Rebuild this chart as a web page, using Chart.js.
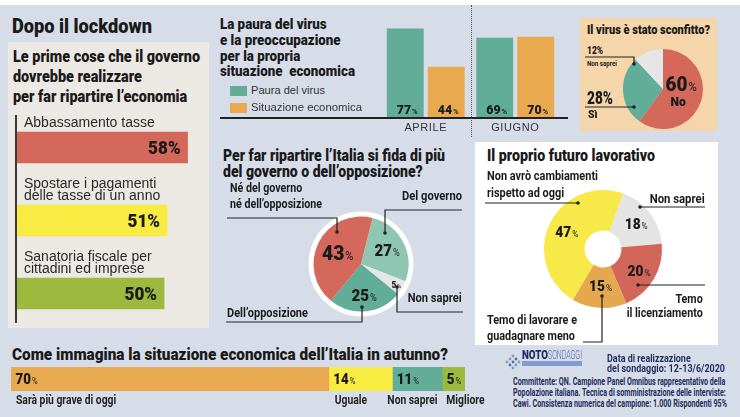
<!DOCTYPE html>
<html><head><meta charset="utf-8">
<script src="https://cdn.jsdelivr.net/npm/chart.js@4.4.0/dist/chart.umd.min.js"></script>
<style>
html,body{margin:0;padding:0}
body{width:740px;height:417px;overflow:hidden;position:relative;background:#d6dde9;font-family:Roboto,"Liberation Sans",sans-serif;color:#1a1a1a}
.p{position:absolute}
.t{position:absolute;white-space:pre;z-index:4}
canvas{position:absolute;z-index:2}
svg{position:absolute;left:0;top:0;z-index:5}
</style></head>
<body>
<div class="p" style="left:0;top:0;width:740px;height:5px;background:#fff"></div>
<div class="p" style="left:8px;top:42px;width:201px;height:286px;background:#ece8e3"></div>
<div class="p" style="left:580px;top:18px;width:137px;height:113px;background:#f5d6aa"></div>
<div class="p" style="left:475px;top:142px;width:243px;height:203px;background:#fff"></div>
<div class="p" style="left:15px;top:115px;width:1.6px;height:208px;background:#3a3a3a"></div>
<div class="p" style="left:220px;top:117px;width:348px;height:1.5px;background:#222;z-index:3"></div>
<div class="p" style="left:470.5px;top:5px;width:0;height:132px;border-left:1px dotted #555"></div>
<div class="p" style="left:230px;top:86px;width:17px;height:10px;background:#61ad98"></div>
<div class="p" style="left:230px;top:103px;width:17px;height:10px;background:#e9a94f"></div>

<canvas id="cA" width="200" height="219" style="left:17px;top:111px"></canvas>
<canvas id="cB" width="179" height="137" style="left:381px;top:0px"></canvas>
<canvas id="cC" width="90" height="90" style="left:618px;top:44px"></canvas>
<canvas id="cD" width="120" height="120" style="left:301px;top:204px"></canvas>
<canvas id="cE" width="128" height="128" style="left:539px;top:185px"></canvas>
<canvas id="cF" width="490" height="45" style="left:11px;top:367px"></canvas>

<svg width="740" height="417" id="lines"></svg>

<!-- footer logo -->
<svg width="740" height="417" style="z-index:5">
  <g fill="#8a9bb5">
    <circle cx="513" cy="356" r="1.4"/><circle cx="510" cy="359" r="1.4"/><circle cx="516" cy="359" r="1.4" fill="#4d6fb0"/>
    <circle cx="507" cy="362" r="1.4"/><circle cx="513" cy="362" r="1.4" fill="#4d6fb0"/><circle cx="519" cy="362" r="1.4"/>
    <circle cx="510" cy="365" r="1.4" fill="#4d6fb0"/><circle cx="516" cy="365" r="1.4"/><circle cx="513" cy="368" r="1.4"/>
  </g>
  <rect x="522" y="361" width="60" height="5" fill="#7f9bd0"/>
</svg>

<script>
const priorityLabels = [['Abbassamento tasse'], ['Spostare i pagamenti', 'delle tasse di un anno'], ['Sanatoria fiscale per', 'cittadini ed imprese']];
const priorityValues = [58, 51, 50];

const fearMonths = ['APRILE', 'GIUGNO'];
const fearSeries = ['Paura del virus', 'Situazione economica'];
const fearVirus = [77, 69];
const fearEconomy = [44, 70];

const defeatedLabels = ['No', 'Sì', 'Non saprei'];
const defeatedValues = [60, 28, 12];

const trustLabels = ['Del governo', 'Non saprei', 'Dell’opposizione', 'Né del governo né dell’opposizione'];
const trustValues = [27, 5, 25, 43];

const jobLabels = ['Non saprei', 'Temo il licenziamento', 'Temo di lavorare e guadagnare meno', 'Non avrò cambiamenti rispetto ad oggi'];
const jobValues = [18, 20, 15, 47];

const autumnLabels = ['Sarà più grave di oggi', 'Uguale', 'Non saprei', 'Migliore'];
const autumnValues = [70, 14, 11, 5];

const RED = '#d3685b', YEL = '#f8eb42', GRN = '#9dba3e', TEAL = '#61ad98', ORA = '#e9a94f', LTEAL = '#8fc6b3', GRAY = '#e6e6e6';
const DARK = '#1a1a1a';

function txt(ctx, s, x, cy, font, align, sx, color) {
  ctx.save();
  ctx.font = font;
  const size = parseFloat(font.match(/([\d.]+)px/)[1]);
  const w = ctx.measureText(s).width * sx;
  const x0 = align === 'left' ? x : align === 'right' ? x - w : x - w / 2;
  ctx.translate(x0, cy + size * 0.355);
  ctx.scale(sx, 1);
  ctx.fillStyle = color || DARK;
  ctx.textAlign = 'left'; ctx.textBaseline = 'alphabetic';
  ctx.fillText(s, 0, 0);
  ctx.restore();
  return w;
}
function pct(ctx, v, x, cy, size, psize, align, sx, pw) {
  const n = String(v), f1 = `900 ${size}px Roboto`, f2 = `${pw || 700} ${psize}px Roboto`;
  ctx.save();
  ctx.font = f1; const w1 = ctx.measureText(n).width;
  ctx.font = f2; const w2 = ctx.measureText('%').width;
  const w = (w1 + w2 + 1) * sx;
  const x0 = align === 'left' ? x : align === 'right' ? x - w : x - w / 2;
  ctx.translate(x0, cy + size * 0.355);
  ctx.scale(sx, 1);
  ctx.fillStyle = DARK; ctx.textAlign = 'left'; ctx.textBaseline = 'alphabetic';
  ctx.font = f1; ctx.fillText(n, 0, 0);
  ctx.font = f2; ctx.fillText('%', w1 + 1, 0);
  ctx.restore();
}

const base = {
  animation: false, responsive: false, devicePixelRatio: 1,
  plugins: { legend: { display: false }, tooltip: { enabled: false } }
};

// Chart A: priorities
new Chart(document.getElementById('cA'), {
  type: 'bar',
  data: { labels: priorityLabels.map(l => l.join(' ')), datasets: [{ data: priorityValues, backgroundColor: [RED, YEL, GRN], barThickness: 31 }] },
  options: Object.assign({}, base, {
    indexAxis: 'y', layout: { padding: 0 },
    scales: { x: { display: false, min: 0, max: 68 }, y: { display: false } }
  }),
  plugins: [{
    id: 'pl', afterDatasetsDraw(chart) {
      const ctx = chart.ctx, meta = chart.getDatasetMeta(0);
      meta.data.forEach((b, i) => {
        const top = b.y - b.height / 2;
        const lines = priorityLabels[i];
        lines.forEach((s, j) => {
          const cy = top - 9.5 - (lines.length - 1 - j) * 12;
          txt(ctx, s, chart.chartArea.left + 7, cy, '14px "Liberation Sans", Arial', 'left', 1, '#2a2a2a');
        });
        txt(ctx, priorityValues[i] + '%', b.x - 7, b.y, '900 18px Roboto', 'right', 0.95);
      });
    }
  }]
});

// Chart B: fear grouped bars
new Chart(document.getElementById('cB'), {
  type: 'bar',
  data: { labels: fearMonths, datasets: [
    { label: fearSeries[0], data: fearVirus, backgroundColor: TEAL, categoryPercentage: 0.916, barPercentage: 0.9 },
    { label: fearSeries[1], data: fearEconomy, backgroundColor: ORA, categoryPercentage: 0.916, barPercentage: 0.9 }
  ] },
  options: Object.assign({}, base, {
    layout: { padding: { top: 2, bottom: 19.5, left: 0, right: 0 } },
    scales: { x: { display: false }, y: { display: false, min: 0, max: 100 } }
  }),
  plugins: [{
    id: 'pb', afterDatasetsDraw(chart) {
      const ctx = chart.ctx, bottom = chart.chartArea.bottom;
      [fearVirus, fearEconomy].forEach((arr, d) => {
        chart.getDatasetMeta(d).data.forEach((b, i) => {
          pct(ctx, arr[i], b.x + 2, bottom - 8, 13, 8, 'center', 0.95);
        });
      });
      const xs = chart.scales.x;
      fearMonths.forEach((m, i) => {
        ctx.save(); ctx.font = '11px "Liberation Sans", Arial'; ctx.fillStyle = '#333';
        ctx.letterSpacing = '0.6px';
        ctx.textAlign = 'center'; ctx.textBaseline = 'middle';
        ctx.fillText(m, xs.getPixelForValue(i), bottom + 10);
        ctx.restore();
      });
    }
  }]
});

// Chart C: virus defeated
new Chart(document.getElementById('cC'), {
  type: 'pie',
  data: { labels: defeatedLabels, datasets: [{ data: defeatedValues, backgroundColor: [RED, TEAL, GRAY], borderWidth: 0 }] },
  options: Object.assign({}, base, { radius: 40, rotation: 0 }),
  plugins: [{
    id: 'pc', afterDatasetsDraw(chart) {
      const ctx = chart.ctx, a = chart.getDatasetMeta(0).data[0];
      const m = (a.startAngle + a.endAngle) / 2, r = a.outerRadius * 0.4;
      const x = a.x + Math.cos(m) * r, y = a.y + Math.sin(m) * r;
      pct(ctx, defeatedValues[0], x + 3, y - 10, 21, 13, 'center', 0.9, 400);
      txt(ctx, defeatedLabels[0], x, y + 7.5, '900 13.5px Roboto', 'center', 0.9);
    }
  }]
});

// Chart D: trust pie
new Chart(document.getElementById('cD'), {
  type: 'pie',
  data: { labels: trustLabels, datasets: [{ data: trustValues, backgroundColor: [LTEAL, GRAY, TEAL, RED], borderWidth: 0 }] },
  options: Object.assign({}, base, { radius: 47.5, rotation: 14 }),
  plugins: [{
    id: 'pd',
    beforeDatasetsDraw(chart) {
      const ctx = chart.ctx, a = chart.getDatasetMeta(0).data[0];
      ctx.save(); ctx.beginPath(); ctx.arc(a.x, a.y, a.outerRadius + 5, 0, Math.PI * 2);
      ctx.fillStyle = '#fff'; ctx.fill(); ctx.restore();
    },
    afterDatasetsDraw(chart) {
      const ctx = chart.ctx, rf = [0.62, 0.86, 0.66, 0.55], sz = [[16.5, 10], [9, 6], [16.5, 10], [21, 12]];
      chart.getDatasetMeta(0).data.forEach((a, i) => {
        const m = (a.startAngle + a.endAngle) / 2, r = a.outerRadius * rf[i];
        pct(ctx, trustValues[i], a.x + Math.cos(m) * r, a.y + Math.sin(m) * r, sz[i][0], sz[i][1], 'center', 0.92, 400);
      });
    }
  }]
});

// Chart E: job donut
new Chart(document.getElementById('cE'), {
  type: 'doughnut',
  data: { labels: jobLabels, datasets: [{ data: jobValues, backgroundColor: ['#e4e4e4', '#d2665a', '#e6a84f', '#f8e94a'], borderWidth: 0 }] },
  options: Object.assign({}, base, { radius: 59, cutout: 20, rotation: 20 }),
  plugins: [{
    id: 'pe', afterDatasetsDraw(chart) {
      const ctx = chart.ctx, rf = [0.71, 0.71, 0.62, 0.68];
      chart.getDatasetMeta(0).data.forEach((a, i) => {
        const m = (a.startAngle + a.endAngle) / 2, r = a.outerRadius * rf[i];
        pct(ctx, jobValues[i], a.x + Math.cos(m) * r, a.y + Math.sin(m) * r, 15, 9, 'center', 0.92, 400);
      });
    }
  }]
});

// Chart F: autumn stacked bar
const autumnColors = ['#e9a94f', '#f8eb42', '#61ad98', '#9dba3e'];
new Chart(document.getElementById('cF'), {
  type: 'bar',
  data: { labels: [''], datasets: autumnValues.map((v, i) => ({ label: autumnLabels[i], data: [v], backgroundColor: autumnColors[i], categoryPercentage: 1, barPercentage: 1 })) },
  options: Object.assign({}, base, {
    indexAxis: 'y', layout: { padding: { top: 0, bottom: 21, left: 0, right: 36 } },
    scales: { x: { display: false, stacked: true, min: 0, max: 100 }, y: { display: false, stacked: true } }
  }),
  plugins: [{
    id: 'pf', afterDatasetsDraw(chart) {
      const ctx = chart.ctx, dx = [5, 6, -5, 4], ca = chart.chartArea;
      autumnValues.forEach((v, i) => {
        const b = chart.getDatasetMeta(i).data[0];
        const start = b.base;
        pct(ctx, v, start + 4.5, b.y, 14.5, 8.5, 'left', 0.92, 400);
        txt(ctx, autumnLabels[i], start + dx[i], ca.bottom + 9, '700 12px Roboto', 'left', 0.86, '#222');
      });
    }
  }]
});

// HTML texts
function T(x, cy, lines, font, w, o) {
  o = o || {};
  const el = document.createElement('div');
  el.className = 't';
  el.style.font = font;
  const size = parseFloat(font.match(/([\d.]+)px/)[1]);
  const lh = o.lh || size * 1.2;
  el.style.lineHeight = lh + 'px';
  el.textContent = lines.join('\n');
  el.style.top = (cy - lh / 2) + 'px';
  if (o.right) { el.style.right = (740 - x) + 'px'; el.style.textAlign = 'right'; }
  else el.style.left = x + 'px';
  el.style.color = o.color || DARK;
  document.body.appendChild(el);
  if (w) {
    const nw = el.getBoundingClientRect().width;
    el.style.transformOrigin = o.right ? 'right top' : 'left top';
    el.style.transform = `scaleX(${w / nw})`;
  }
}
T(12, 26.5, ['Dopo il lockdown'], '900 19.5px Roboto', 140);
T(13, 57, ['Le prime cose che il governo', 'dovrebbe realizzare', 'per far ripartire l’economia'], '900 16.5px Roboto', 187, { lh: 19.7 });
T(220, 25, ['La paura del virus', 'e la preoccupazione', 'per la propria', 'situazione  economica'], '900 15px Roboto', 135, { lh: 15.8 });
T(251, 91, [fearSeries[0]], '11.5px "Liberation Sans"', 74, { color: '#333' });
T(251, 108, [fearSeries[1]], '11.5px "Liberation Sans"', 111, { color: '#333' });
T(587, 30, ['Il virus è stato sconfitto?'], '900 13px Roboto', 123);
T(587, 51, ['12%'], '900 11px Roboto', 16);
T(587, 63.5, ['Non saprei'], '700 7.5px Roboto', 30);
T(587, 98, ['28%'], '900 17.5px Roboto', 26);
T(588, 115, ['Sì'], '900 10.5px Roboto', null);
T(223, 156, ['Per far ripartire l’Italia si fida di più', 'del governo o dell’opposizione?'], '900 16px Roboto', 222, { lh: 16.5 });
T(230, 188, ['Né del governo', 'né dell’opposizione'], '700 12.5px Roboto', 92, { lh: 16 });
T(462, 195, ['Del governo'], '700 12.5px Roboto', 60, { right: true });
T(462, 297, ['Non saprei'], '700 12.5px Roboto', 54, { right: true });
T(227, 312, ['Dell’opposizione'], '700 12.5px Roboto', 81);
T(487, 155.5, ['Il proprio futuro lavorativo'], '900 16px Roboto', 168);
T(487, 175, ['Non avrò cambiamenti', 'rispetto ad oggi'], '700 12.5px Roboto', 111, { lh: 17 });
T(705, 198, ['Non saprei'], '700 12.5px Roboto', 55, { right: true });
T(703, 299, ['Temo', 'il licenziamento'], '700 12.5px Roboto', 76, { right: true, lh: 14.5 });
T(487, 320, ['Temo di lavorare e', 'guadagnare meno'], '700 12.5px Roboto', 90, { lh: 16 });
T(12, 354, ['Come immagina la situazione economica dell’Italia in autunno?'], '900 17px Roboto', 436);
T(522, 355, ['NOTO'], '900 12px Roboto', 26, { color: '#1f2f66' });
T(548, 355, ['SONDAGGI'], '300 12px Roboto', 34, { color: '#4a6bb0' });
T(607, 359, ['Data di realizzazione', 'del sondaggio: 12-13/6/2020'], '700 10px Roboto', 118, { lh: 9.5, color: '#1f2b5b' });
T(513, 381, ['Committente: QN. Campione Panel Omnibus rappresentativo della', 'Popolazione italiana. Tecnica di somministrazione delle interviste:', 'Cawi. Consistenza numerica del campione: 1.000 Rispondenti 95%'], '700 10px Roboto', 214, { lh: 11, color: '#1f2b5b' });

// leader lines
const L = [
  'M585 57 H634 V64', 'M585 107 H634',
  'M227 218 H337 V232', 'M462 210 H385 V233', 'M463 312 H397 V287', 'M226 322 H362 V307',
  'M485 203 H578', 'M705 207 H640', 'M705 285 H638', 'M583 342 H602 V296'
];
const D = [[634, 64], [634, 107], [337, 232], [385, 233], [397, 287], [362, 307], [578, 203], [640, 207], [638, 285], [602, 296]];
const svg = document.getElementById('lines');
svg.innerHTML = L.map(d => `<path d="${d}" fill="none" stroke="#222" stroke-width="1.2"/>`).join('') +
  D.map(p => `<circle cx="${p[0]}" cy="${p[1]}" r="1.8" fill="#222"/>`).join('');
</script>
</body></html>
